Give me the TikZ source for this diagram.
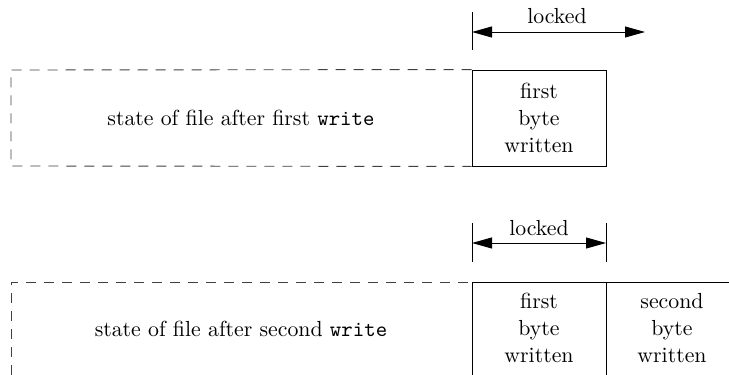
\documentclass[tikz,border=0pt]{standalone}
\usetikzlibrary{arrows.meta}
\begin{document}
\begin{tikzpicture}[x=0.5pt,y=-0.5pt,
  every node/.style={font=\fontsize{10.9}{13.5}\selectfont, align=center, inner sep=0pt},
  solidline/.style={line width=0.45pt, black},
  dashline/.style={line width=0.45pt, black!75, dash pattern=on 5pt off 4pt},
  tickline/.style={line width=0.45pt, black},
  lockarrow/.style={line width=0.45pt, black, {Triangle[length=10pt,width=5.5pt]}-{Triangle[length=10pt,width=5.5pt]}},
  bytebox/.style={draw, line width=0.45pt, minimum width=67pt, minimum height=48pt}
]
\useasboundingbox (0,0) rectangle (729,375);

% ---------- top: after first write ----------
\node[bytebox] (box1) at (539,118) {first\\byte\\written};
\coordinate (d1tl) at (11,70);
\coordinate (d1bl) at (11,166);
\draw[dashline] (box1.north west) -- (d1tl) -- (d1bl) -- (box1.south west);
\node (state1) at (241,118) {state of file after first \texttt{write}};

\coordinate (t1a) at (472,12);
\coordinate (t1b) at (472,50);
\coordinate (a1l) at (472,32);
\coordinate (a1r) at (645,32);
\draw[tickline] (t1a) -- (t1b);
\draw[lockarrow] (a1l) -- (a1r);
\node (lock1) at (557,16) {locked};

% ---------- bottom: after second write ----------
\coordinate (b2tl) at (472,282);
\coordinate (b2tm) at (606,282);
\coordinate (b2tr) at (729,282);
\coordinate (b2bl) at (472,375);
\coordinate (b2bm) at (606,375);
\coordinate (d2tl) at (11,282);
\coordinate (d2bl) at (11,375);
\draw[dashline] (d2bl) -- (d2tl) -- (b2tl);
\draw[solidline] (b2tl) -- (b2tr);
\draw[solidline] (b2tl) -- (b2bl);
\draw[solidline] (b2tm) -- (b2bm);
\node (first2) at (539,328) {first\\byte\\written};
\node (second2) at (672,328) {second\\byte\\written};
\node (state2) at (241,329) {state of file after second \texttt{write}};

\coordinate (t2a) at (472,223);
\coordinate (t2b) at (472,262);
\coordinate (t2c) at (606,223);
\coordinate (t2d) at (606,262);
\coordinate (a2l) at (472,243);
\coordinate (a2r) at (606,243);
\draw[tickline] (t2a) -- (t2b);
\draw[tickline] (t2c) -- (t2d);
\draw[lockarrow] (a2l) -- (a2r);
\node (lock2) at (539,228) {locked};
\end{tikzpicture}
\end{document}
